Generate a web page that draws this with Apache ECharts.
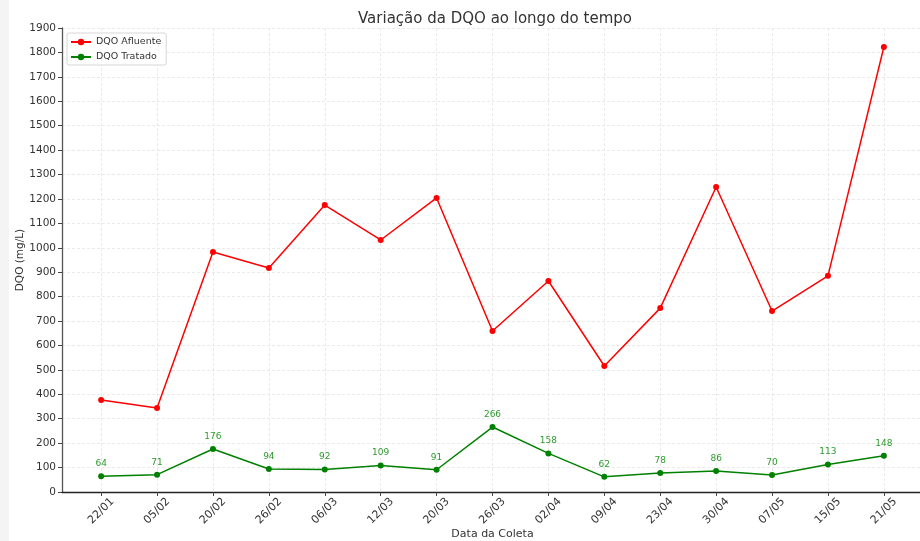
<!DOCTYPE html>
<html lang="pt">
<head>
<meta charset="UTF-8" />
<title>Variação da DQO</title>
<script src="https://cdn.jsdelivr.net/npm/echarts@6/dist/echarts.min.js"></script>
<style>
  html, body { margin: 0; padding: 0; background: #fff; }
  #main { width: 920px; height: 541px; }
</style>
</head>
<body>
<div id="main"></div>
<script>
// datas das coletas
var datas = ['22/01','05/02','20/02','26/02','06/03','12/03','20/03','26/03','02/04','09/04','23/04','30/04','07/05','15/05','21/05'];
// DQO afluente
var afluente = [377, 344, 983, 917, 1175, 1032, 1204, 659, 864, 516, 753, 1249, 741, 885, 1822];
// DQO tratado (rótulos)
var tratado = [64, 71, 176, 94, 92, 109, 91, 266, 158, 62, 78, 86, 70, 113, 148];

var idx = datas.map(function (d, i) { return i; });
function pares(arr) { return arr.map(function (v, i) { return [i, v]; }); }

var myChart = echarts.init(document.getElementById('main'));
var txt = '#333';
var gridLine = { show: true, lineStyle: { color: '#e4e4e4', type: [3, 2], width: 0.8 } };

var option = {
    backgroundColor: '#fff',
    animation: false,
    title: {
        text: 'Variação da DQO ao longo do tempo',
        left: 490, top: 7, textAlign: 'center',
        textStyle: { fontFamily: 'DejaVu Sans', fontSize: 15, fontWeight: 'normal', color: txt }
    },
    graphic: [{ type: 'rect', left: 0, top: 0, shape: { width: 9, height: 541 }, style: { fill: '#f4f4f4' }, z: -1 }],
    legend: {
        orient: 'vertical', left: 67, top: 33,
        itemWidth: 20, itemHeight: 8, itemGap: 5,
        padding: [4, 5, 3, 3],
        borderColor: '#d6d6d6', borderWidth: 1, borderRadius: 2,
        backgroundColor: 'rgba(255,255,255,0.85)',
        textStyle: { fontFamily: 'DejaVu Sans', fontSize: 9.5, color: txt },
        data: ['DQO Afluente', 'DQO Tratado']
    },
    grid: { left: 62, right: -3, top: 28, bottom: 49, outerBoundsMode: 'none', containLabel: false },
    xAxis: {
        type: 'value', min: -0.7, max: 14.7,
        name: 'Data da Coleta', nameLocation: 'middle', nameGap: 37, nameMoveOverlap: false,
        nameTextStyle: { fontFamily: 'DejaVu Sans', fontSize: 11, color: txt },
        axisLine: { show: true, onZero: false, lineStyle: { color: '#222', width: 1.3 } },
        axisTick: { show: true, customValues: idx, length: 4, lineStyle: { color: '#444' } },
        axisLabel: {
            customValues: idx, rotate: 45, margin: 19,
            align: 'center', verticalAlign: 'middle',
            fontFamily: 'DejaVu Sans', fontSize: 11, color: txt,
            formatter: function (v) { return datas[Math.round(v)]; }
        },
        splitLine: gridLine
    },
    yAxis: {
        type: 'value', min: 0, max: 1900, interval: 100,
        name: 'DQO (mg/L)', nameLocation: 'middle', nameGap: 36, nameRotate: 90, nameMoveOverlap: false,
        nameTextStyle: { fontFamily: 'DejaVu Sans', fontSize: 10.5, color: txt },
        axisLine: { show: true, onZero: false, lineStyle: { color: '#555', width: 1.3 } },
        axisTick: { show: true, length: 4, lineStyle: { color: '#444' } },
        axisLabel: {
            fontFamily: 'DejaVu Sans', fontSize: 10.5, color: txt, margin: 6,
            formatter: function (v) { return String(v); }
        },
        splitLine: gridLine
    },
    series: [
        {
            name: 'DQO Afluente', type: 'line', data: pares(afluente),
            symbol: 'circle', symbolSize: 6,
            lineStyle: { color: '#ff0000', width: 1.5 },
            itemStyle: { color: '#ff0000' }
        },
        {
            name: 'DQO Tratado', type: 'line', data: pares(tratado),
            symbol: 'circle', symbolSize: 6,
            lineStyle: { color: '#008000', width: 1.5 },
            itemStyle: { color: '#008000' },
            label: {
                show: true, position: 'top', distance: 5,
                fontFamily: 'DejaVu Sans', fontSize: 9, color: '#2e9a2e',
                formatter: function (p) { return p.value[1]; }
            }
        }
    ]
};
myChart.setOption(option);
</script>
</body>
</html>
